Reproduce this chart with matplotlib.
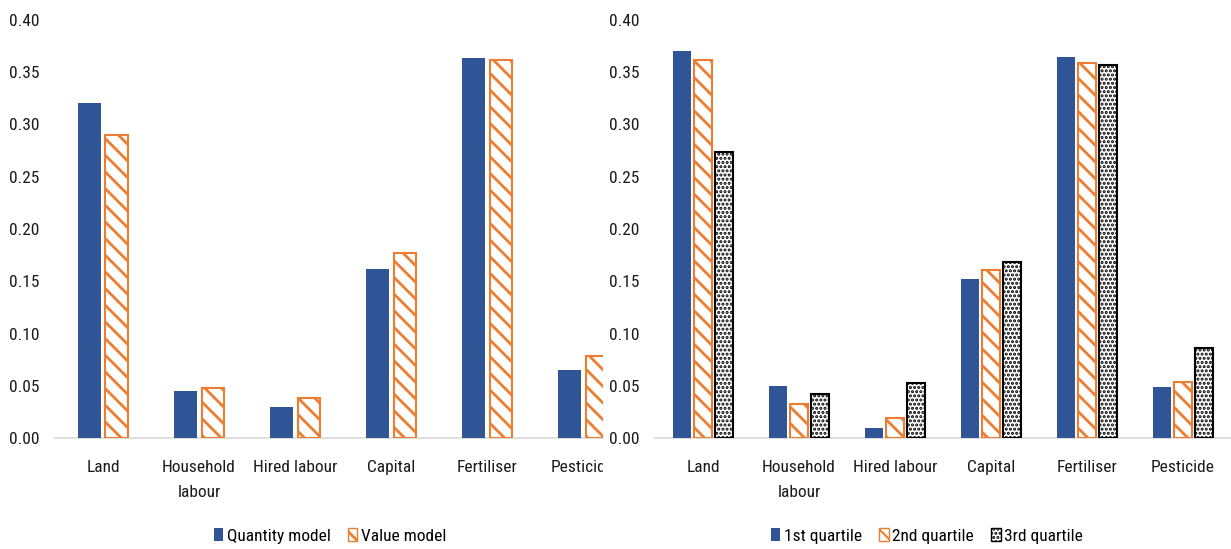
import numpy as np
import matplotlib
matplotlib.use("Agg")
import matplotlib.pyplot as plt
from matplotlib import font_manager
from matplotlib.transforms import Bbox, TransformedBbox
from matplotlib.patches import Patch

# narrow sans for the labels, first one that is installed
installed = {f.name for f in font_manager.fontManager.ttflist}
for name in ["Roboto Condensed", "IBM Plex Sans Condensed", "Open Sans Condensed", "Liberation Sans"]:
    if name in installed:
        FONT = name
        break
plt.rcParams['font.family'] = [FONT, 'DejaVu Sans']

# --- data ---
categories = ["Land", "Household\nlabour", "Hired labour", "Capital", "Fertiliser", "Pesticide"]

quantity_model = [0.321, 0.045, 0.030, 0.162, 0.364, 0.065]
value_model = [0.290, 0.048, 0.038, 0.177, 0.362, 0.078]

q1 = [0.370, 0.050, 0.010, 0.152, 0.365, 0.049]
q2 = [0.362, 0.033, 0.019, 0.161, 0.359, 0.054]
q3 = [0.274, 0.042, 0.053, 0.168, 0.357, 0.086]

yticks = [0.00, 0.05, 0.10, 0.15, 0.20, 0.25, 0.30, 0.35, 0.40]

BLUE = "#2F5597"
ORANGE = "#ED7D31"
STRIPES = "\\\\"
DOTS = "...."
FS = 12.5

W, H = 1231, 549
fig = plt.figure(figsize=(W / 100, H / 100), dpi=100)

bottom = (H - 438) / H
height = 418 / H
# left panel is cut off on the right side
ax1 = fig.add_axes([55 / W, bottom, 548 / W, height])
ax2 = fig.add_axes([655 / W, bottom, 576 / W, height])

x = np.arange(len(categories))


def style(ax, xmax):
    ax.set_ylim(0, 0.40)
    ax.set_xlim(-0.5, xmax)
    ax.set_yticks(yticks)
    ax.set_yticklabels([f"{v:.2f}" for v in yticks], fontsize=FS)
    ax.set_xticks(x)
    ax.set_xticklabels(categories, fontsize=FS, linespacing=1.85)
    for s in ["top", "right", "left"]:
        ax.spines[s].set_visible(False)
    ax.spines["bottom"].set_color("#D9D9D9")
    ax.spines["bottom"].set_linewidth(1.2)
    ax.tick_params(axis="both", length=0, colors="#1a1a1a")
    ax.tick_params(axis="y", pad=11.5)
    ax.tick_params(axis="x", pad=16)


def striped(ax, pos, vals, w, **kw):
    plt.rcParams['hatch.linewidth'] = 2.0
    return ax.bar(pos, vals, w, facecolor="white", edgecolor=ORANGE,
                  hatch=STRIPES, linewidth=1.5, zorder=3, **kw)


def dotted(ax, pos, vals, w, **kw):
    plt.rcParams['hatch.linewidth'] = 1.5
    return ax.bar(pos, vals, w, facecolor="white", edgecolor="black",
                  hatch=DOTS, linewidth=1.5, zorder=3, **kw)


# --- left: quantity vs value model ---
bw = 0.234
ax1.bar(x - 0.143, quantity_model, bw, color=BLUE, zorder=3)
striped(ax1, x + 0.143, value_model, bw)
style(ax1, 5.208)

clip = TransformedBbox(Bbox([[0, 0], [603 / W, 1]]), fig.transFigure)
for lab in ax1.get_xticklabels():
    lab.set_clip_box(clip)
    lab.set_clip_on(True)

# --- right: quartiles ---
bw2 = 0.19
step = 0.22
ax2.bar(x - step, q1, bw2, color=BLUE, zorder=3)
striped(ax2, x, q2, bw2)
dotted(ax2, x + step, q3, bw2)
style(ax2, 5.5)

# --- legends ---
leg_kw = dict(loc="center", ncol=3, frameon=False, fontsize=FS,
              handlelength=0.55, handleheight=0.7, handletextpad=0.2,
              columnspacing=1.0)
plt.rcParams['hatch.linewidth'] = 2.0
h1 = [Patch(facecolor=BLUE, label="Quantity model"),
      Patch(facecolor="white", edgecolor=ORANGE, hatch=STRIPES, label="Value model")]
fig.legend(handles=h1, bbox_to_anchor=(330 / W, 1 - 536 / H), **{**leg_kw, "ncol": 2})

h2 = [Patch(facecolor=BLUE, label="1st quartile"),
      Patch(facecolor="white", edgecolor=ORANGE, hatch=STRIPES, label="2nd quartile")]
plt.rcParams['hatch.linewidth'] = 1.5
h2.append(Patch(facecolor="white", edgecolor="black", hatch=DOTS, label="3rd quartile"))
fig.legend(handles=h2, bbox_to_anchor=(927 / W, 1 - 536 / H), **leg_kw)

fig.savefig("out.png", dpi=100)
